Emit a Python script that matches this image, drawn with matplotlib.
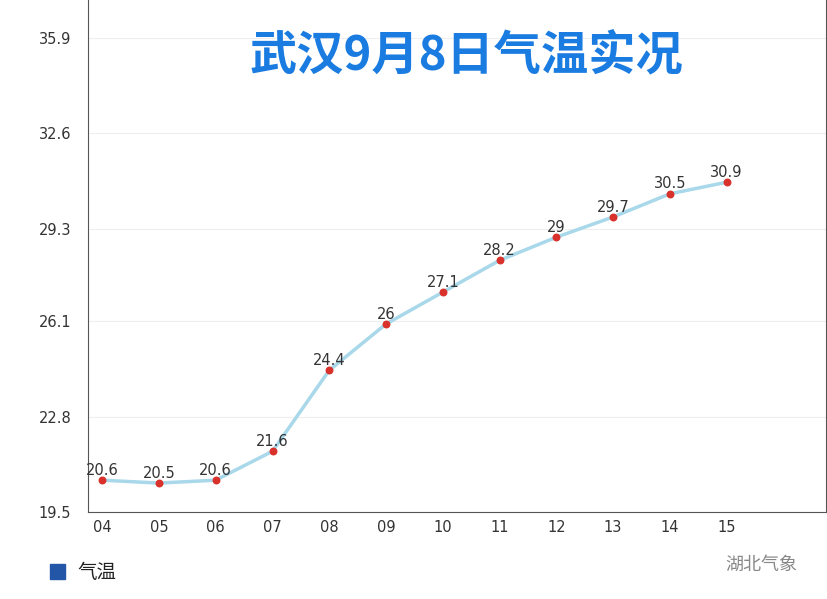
import matplotlib
matplotlib.use("Agg")
import matplotlib.pyplot as plt

plt.rcParams['font.family'] = ['Noto Sans CJK SC', 'DejaVu Sans']

hours = ["04", "05", "06", "07", "08", "09", "10", "11", "12", "13", "14", "15"]
temps = [20.6, 20.5, 20.6, 21.6, 24.4, 26.0, 27.1, 28.2, 29.0, 29.7, 30.5, 30.9]
labels = ["20.6", "20.5", "20.6", "21.6", "24.4", "26", "27.1", "28.2", "29", "29.7", "30.5", "30.9"]
yticks = [19.5, 22.8, 26.1, 29.3, 32.6, 35.9]

fig = plt.figure(figsize=(8.28, 5.99), dpi=100)
ax = fig.add_axes([88/828, 1-512/599, (826-88)/828, 512/599])
x = list(range(len(hours)))
ax.plot(x, temps, color="#a8d8ea", lw=2.5, zorder=2)
ax.scatter(x, temps, color="#d9312b", s=22, zorder=3)
for xi, t, l in zip(x, temps, labels):
    ax.text(xi, t + 0.08, l, ha="center", va="bottom", fontsize=10.5,
            color="#333333", family="DejaVu Sans")
ax.set_xlim(-0.25, 11 + 1.75)
ax.set_ylim(19.5, 37.2)
ax.set_xticks(x)
ax.set_xticklabels(hours, fontsize=10.5, color="#333333", family="DejaVu Sans")
ax.set_yticks(yticks)
ax.set_yticklabels([f"{v:.1f}" for v in yticks], fontsize=10.5, color="#333333", family="DejaVu Sans")
ax.tick_params(axis="y", length=0, pad=12)
ax.tick_params(axis="x", length=0, pad=6)
ax.grid(axis="y", color="#eeeeee", lw=0.8)
for s in ["left", "bottom", "right"]:
    ax.spines[s].set_color("#555555")
ax.spines["top"].set_visible(False)

fig.text(466/828, 1-55/599, "武汉9月8日气温实况", ha="center", va="center",
         fontsize=34, fontweight="bold", color="#1a7be0")
fig.patches.append(plt.Rectangle((50/828, 1-579/599), 15/828, 15/599,
                                 transform=fig.transFigure, color="#2356a6"))
fig.text(77/828, 1-572/599, "气温", ha="left", va="center", fontsize=14, color="#222222")
fig.text(725/828, 1-565/599, "湖北气象", ha="left", va="center", fontsize=13, color="#888888")
fig.savefig("out.png", dpi=100, facecolor="white")
